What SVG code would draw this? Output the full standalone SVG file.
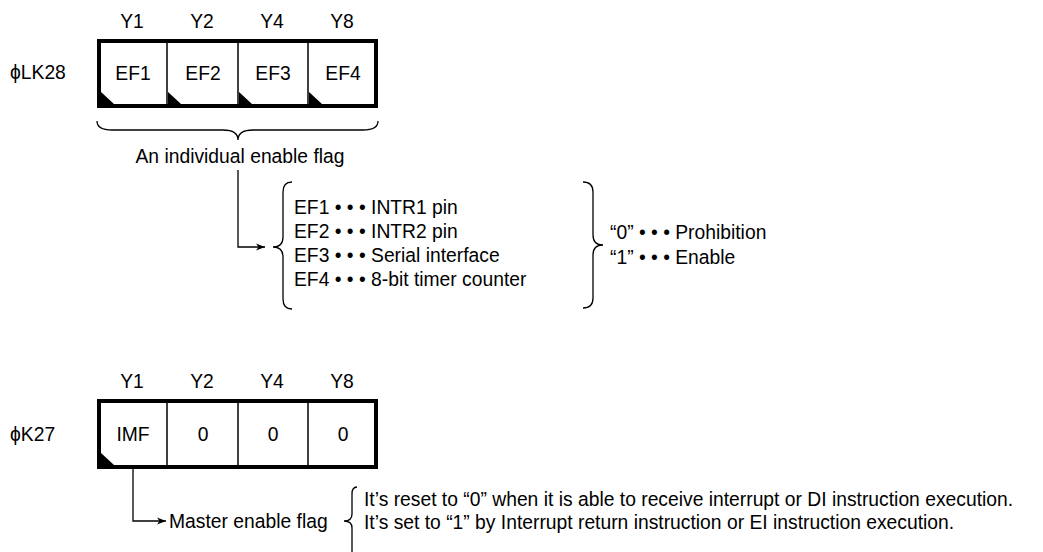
<svg xmlns="http://www.w3.org/2000/svg" width="1043" height="552" viewBox="0 0 1043 552">
<defs>
<style>
text{font-family:"Liberation Sans",Arial,sans-serif;font-size:19.3px;fill:#000}
.c{text-anchor:middle}
.box{fill:#fff;stroke:#000;stroke-width:4}
.div{stroke:#000;stroke-width:1.5}
.ln{fill:none;stroke:#000;stroke-width:1.3}
.br{fill:none;stroke:#000;stroke-width:1.3}
</style>
<marker id="ah" markerWidth="10" markerHeight="8" refX="9" refY="4" orient="auto" markerUnits="userSpaceOnUse">
<path d="M0,0.5 L9,4 L0,7.5 L2.5,4 z" fill="#000"/>
</marker>
</defs>
<g id="reg1">
<text x="10" y="79">ϕLK28</text>
<text class="c" x="132" y="28">Y1</text>
<text class="c" x="202" y="28">Y2</text>
<text class="c" x="272" y="28">Y4</text>
<text class="c" x="342" y="28">Y8</text>
<rect class="box" x="99" y="41" width="277" height="65"/>
<line class="div" x1="167" y1="41" x2="167" y2="106"/>
<line class="div" x1="238" y1="41" x2="238" y2="106"/>
<line class="div" x1="308" y1="41" x2="308" y2="106"/>
<path d="M101,92 L101,104 L114,104 z M168,92 L168,104 L181,104 z M239,92 L239,104 L252,104 z M309,92 L309,104 L322,104 z" fill="#000"/>
<text class="c" x="133" y="80">EF1</text>
<text class="c" x="203" y="80">EF2</text>
<text class="c" x="273" y="80">EF3</text>
<text class="c" x="343" y="80">EF4</text>
</g>
<g id="brace1">
<path class="br" d="M97,121 Q97,130 112,130 L223,130 Q238,130 238,140 Q238,130 253,130 L363,130 Q378,130 378,121"/>
<text class="c" x="240" y="163">An individual enable flag</text>
</g>
<g id="flags">
<path class="br" d="M292,182 Q283,182 283,192 L283,237 Q283,247 273,247 Q283,247 283,257 L283,299 Q283,309 292,309"/>
<text x="294" y="214">EF1 • • • INTR1 pin</text>
<text x="294" y="238">EF2 • • • INTR2 pin</text>
<text x="294" y="262">EF3 • • • Serial interface</text>
<text x="294" y="286">EF4 • • • 8-bit timer counter</text>
</g>
<g id="values">
<path class="br" d="M583,182 Q593,182 593,192 L593,235 Q593,245 603,245 Q593,245 593,255 L593,298 Q593,308 583,308"/>
<text x="610" y="239">“0” • • • Prohibition</text>
<text x="610" y="264">“1” • • • Enable</text>
</g>
<g id="reg2">
<text x="10" y="441">ϕK27</text>
<text class="c" x="132" y="388">Y1</text>
<text class="c" x="202" y="388">Y2</text>
<text class="c" x="272" y="388">Y4</text>
<text class="c" x="342" y="388">Y8</text>
<rect class="box" x="99" y="401" width="277" height="66"/>
<line class="div" x1="167" y1="401" x2="167" y2="467"/>
<line class="div" x1="238" y1="401" x2="238" y2="467"/>
<line class="div" x1="308" y1="401" x2="308" y2="467"/>
<path d="M101,453 L101,465 L114,465 z" fill="#000"/>
<text class="c" x="133" y="441">IMF</text>
<text class="c" x="203" y="441">0</text>
<text class="c" x="273" y="441">0</text>
<text class="c" x="343" y="441">0</text>
</g>
<g id="master">
<text x="169" y="528">Master enable flag</text>
<path class="br" d="M357,487 Q352,487 352,494 L352,514 Q352,521 344,521 Q352,521 352,528 L352,552"/>
<text x="364" y="506">It’s reset to “0” when it is able to receive interrupt or DI instruction execution.</text>
<text x="364" y="529">It’s set to “1” by Interrupt return instruction or EI instruction execution.</text>
</g>
<g id="connectors">
<path class="ln" d="M238,170 L238,247 L265,247" marker-end="url(#ah)"/>
<path class="ln" d="M133,469 L133,521 L166,521" marker-end="url(#ah)"/>
</g>
</svg>
